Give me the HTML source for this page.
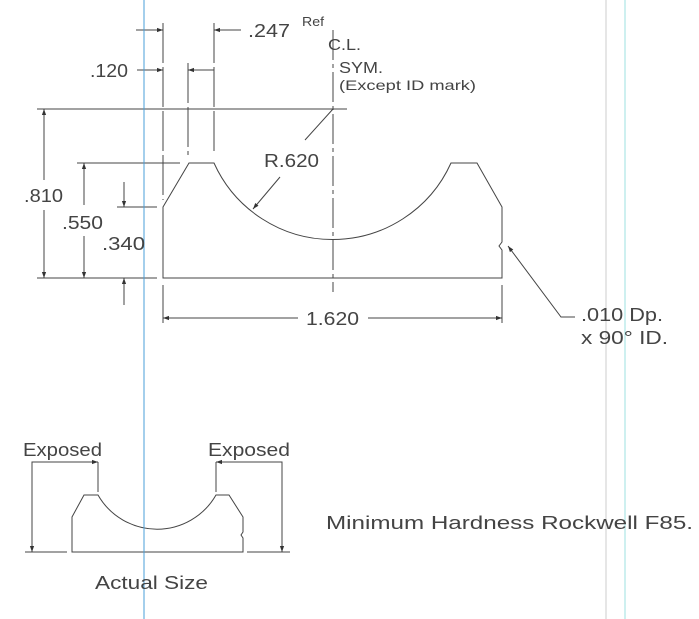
<!DOCTYPE html>
<html><head><style>html,body{margin:0;padding:0;background:#fff}svg{display:block}text{font-family:"Liberation Sans",sans-serif;fill:#444}</style></head>
<body>
<svg width="699" height="619" viewBox="0 0 699 619" xmlns="http://www.w3.org/2000/svg">
<defs>
<marker id="a" viewBox="0 0 10 10" refX="10" refY="5" markerWidth="10" markerHeight="6" orient="auto-start-reverse" markerUnits="userSpaceOnUse"><path d="M0,1.5L10,5L0,8.5z" fill="#333"/></marker>
</defs>
<g stroke="#444" stroke-width="1" fill="none">
<path d="M163,207 L189,163 L214,163 A130,130 0 0 0 451,163 L477,163 L502,207 L502,242 L499,246 L502,250 L502,278 L163,278 Z"/>
<line x1="37" y1="109" x2="347" y2="109"/>
<line x1="333" y1="30" x2="333" y2="292" stroke-dasharray="30,4,4,4"/>
<line x1="163" y1="23" x2="163" y2="200" stroke-dasharray="40,4"/>
<line x1="188" y1="63" x2="188" y2="155" stroke-dasharray="40,4"/>
<line x1="214" y1="23" x2="214" y2="155" stroke-dasharray="40,4"/>
<line x1="37" y1="278" x2="157" y2="278"/>
<line x1="77" y1="163" x2="180" y2="163"/>
<line x1="117" y1="207" x2="157" y2="207"/>
<line x1="163" y1="285" x2="163" y2="323"/>
<line x1="502" y1="285" x2="502" y2="323"/>
<line x1="136" y1="30" x2="163" y2="30" marker-end="url(#a)"/>
<line x1="137" y1="70" x2="163" y2="70" marker-end="url(#a)"/>
<line x1="214" y1="70" x2="188" y2="70" marker-end="url(#a)"/>
<line x1="241" y1="30" x2="214" y2="30" marker-end="url(#a)"/>
<line x1="44" y1="180" x2="44" y2="109" marker-end="url(#a)"/>
<line x1="44" y1="210" x2="44" y2="278" marker-end="url(#a)"/>
<line x1="84" y1="205" x2="84" y2="163" marker-end="url(#a)"/>
<line x1="84" y1="236" x2="84" y2="278" marker-end="url(#a)"/>
<line x1="124" y1="182" x2="124" y2="207" marker-end="url(#a)"/>
<line x1="124" y1="305" x2="124" y2="278" marker-end="url(#a)"/>
<line x1="298" y1="318" x2="163" y2="318" marker-end="url(#a)"/>
<line x1="368" y1="318" x2="502" y2="318" marker-end="url(#a)"/>
<line x1="305" y1="140" x2="333" y2="109"/>
<line x1="280" y1="177" x2="253" y2="209" marker-end="url(#a)"/>
<polyline points="575,317 561,317 508,246" marker-end="url(#a)"/>
<path d="M72,517 L84,495 L98,495 A68,68 0 0 0 216,495 L229,495 L243,517 L243,532 L241,535 L243,538 L243,552 L72,552 Z"/>
<line x1="25" y1="552" x2="67" y2="552"/>
<line x1="247" y1="552" x2="290" y2="552"/>
<line x1="98" y1="462" x2="98" y2="492"/>
<line x1="216" y1="462" x2="216" y2="492"/>
<polyline points="32,552 32,462 98,462" marker-end="url(#a)"/>
<line x1="32" y1="470" x2="32" y2="552" marker-end="url(#a)"/>
<polyline points="282,552 282,462 216,462" marker-end="url(#a)"/>
<line x1="282" y1="470" x2="282" y2="552" marker-end="url(#a)"/>
</g>
<line x1="144" y1="0" x2="144" y2="619" stroke="#4a9fd8" stroke-width="1"/>
<line x1="606" y1="0" x2="606" y2="619" stroke="#ccc" stroke-width="1"/>
<line x1="625" y1="0" x2="625" y2="619" stroke="#9ee0e0" stroke-width="1"/>
<g font-size="18" lengthAdjust="spacingAndGlyphs">
<text x="90" y="77" textLength="38" lengthAdjust="spacingAndGlyphs">.120</text>
<text x="248" y="37" textLength="42" lengthAdjust="spacingAndGlyphs">.247</text>
<text x="302" y="26" font-size="13" textLength="22" lengthAdjust="spacingAndGlyphs">Ref</text>
<text x="328" y="50" font-size="16" textLength="33" lengthAdjust="spacingAndGlyphs">C.L.</text>
<text x="339" y="73" font-size="16" textLength="44" lengthAdjust="spacingAndGlyphs">SYM.</text>
<text x="339" y="90" font-size="14" textLength="137" lengthAdjust="spacingAndGlyphs">(Except ID mark)</text>
<text x="24" y="202" textLength="39" lengthAdjust="spacingAndGlyphs">.810</text>
<text x="62" y="229" textLength="41" lengthAdjust="spacingAndGlyphs">.550</text>
<text x="102" y="250" textLength="43" lengthAdjust="spacingAndGlyphs">.340</text>
<text x="264" y="167" textLength="55" lengthAdjust="spacingAndGlyphs">R.620</text>
<text x="306" y="325" textLength="53" lengthAdjust="spacingAndGlyphs">1.620</text>
<text x="581" y="321" textLength="82" lengthAdjust="spacingAndGlyphs">.010 Dp.</text>
<text x="581" y="344" textLength="87" lengthAdjust="spacingAndGlyphs">x 90° ID.</text>
<text x="23" y="456" textLength="79" lengthAdjust="spacingAndGlyphs">Exposed</text>
<text x="208" y="456" textLength="82" lengthAdjust="spacingAndGlyphs">Exposed</text>
<text x="95" y="589" textLength="113" lengthAdjust="spacingAndGlyphs">Actual Size</text>
<text x="326" y="529" textLength="367" lengthAdjust="spacingAndGlyphs">Minimum Hardness Rockwell F85.</text>
</g>
</svg>
</body></html>
